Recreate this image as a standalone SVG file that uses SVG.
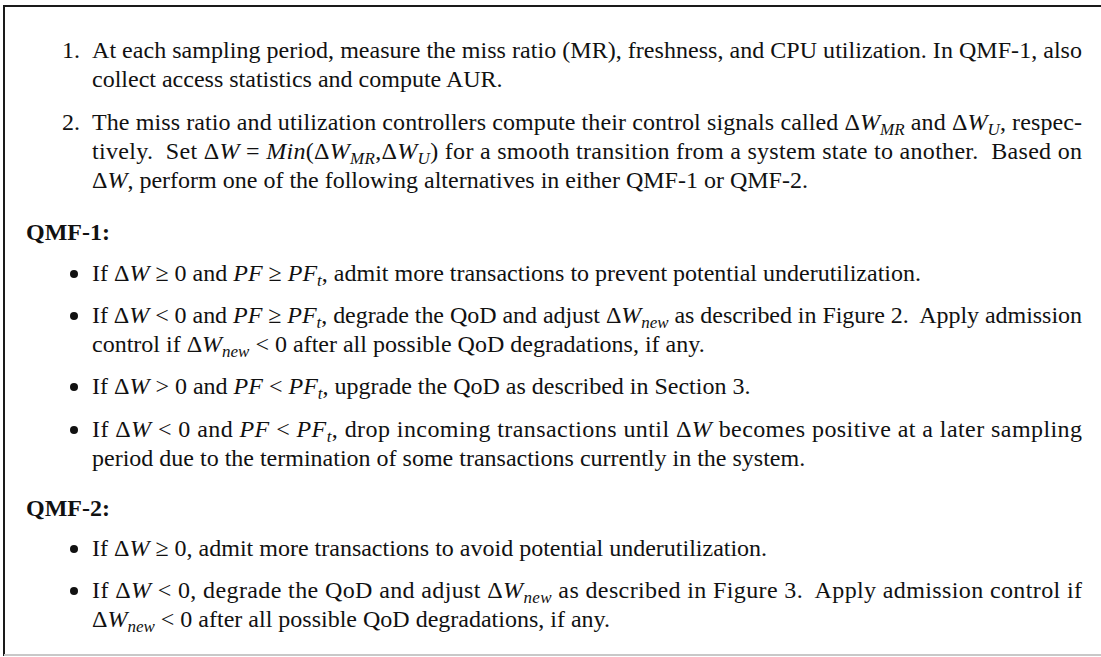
<svg xmlns="http://www.w3.org/2000/svg" width="1101" height="657" viewBox="0 0 1101 657">
  <style>
    text { font-family: "Liberation Serif", "Times New Roman", serif; font-size: 24px; fill: #111; }
    .hd { font-weight: bold; }
    .m { font-style: italic; }
    .sub { font-style: italic; font-size: 17px; }
    .dot { fill: #111; }
  </style>
  <rect x="0" y="0" width="1101" height="657" fill="#fff"/>

  <!-- frame: open on the right -->
  <g id="frame" fill="none" stroke-width="2">
    <line x1="4" y1="6" x2="1101" y2="6" stroke="#1a1a1a"/>
    <line x1="4" y1="5" x2="4" y2="656" stroke="#1a1a1a"/>
    <line x1="4" y1="655" x2="1101" y2="655" stroke="#c8c8c8"/>
  </g>

  <!-- step 1 -->
  <g id="step1">
    <text x="62" y="58">1.</text>
    <text x="92" y="58" textLength="990" lengthAdjust="spacing">At each sampling period, measure the miss ratio (MR), freshness, and CPU utilization. In QMF-1, also</text>
    <text x="92" y="87">collect access statistics and compute AUR.</text>
  </g>

  <!-- step 2 -->
  <g id="step2">
    <text x="62" y="130">2.</text>
    <text x="92" y="130" textLength="990" lengthAdjust="spacing">The miss ratio and utilization controllers compute their control signals called Δ<tspan class="m">W</tspan><tspan class="sub" dy="5">MR</tspan><tspan dy="-5"> and Δ</tspan><tspan class="m">W</tspan><tspan class="sub" dy="5">U</tspan><tspan dy="-5">, respec-</tspan></text>
    <text x="92" y="159" textLength="990" lengthAdjust="spacing">tively.&#160; Set Δ<tspan class="m">W</tspan> = <tspan class="m">Min</tspan>(Δ<tspan class="m">W</tspan><tspan class="sub" dy="5">MR</tspan><tspan dy="-5">,Δ</tspan><tspan class="m">W</tspan><tspan class="sub" dy="5">U</tspan><tspan dy="-5">) for a smooth transition from a system state to another.&#160; Based on</tspan></text>
    <text x="92" y="188">Δ<tspan class="m">W</tspan>, perform one of the following alternatives in either QMF-1 or QMF-2.</text>
  </g>

  <!-- QMF-1 -->
  <g id="qmf1">
    <text class="hd" x="26" y="240">QMF-1:</text>

    <circle class="dot" cx="74" cy="274" r="4"/>
    <text x="92" y="281">If Δ<tspan class="m">W</tspan> ≥ 0 and <tspan class="m">PF</tspan> ≥ <tspan class="m">PF</tspan><tspan class="sub" dy="5">t</tspan><tspan dy="-5">, admit more transactions to prevent potential underutilization.</tspan></text>

    <circle class="dot" cx="74" cy="316" r="4"/>
    <text x="92" y="323" textLength="990" lengthAdjust="spacing">If Δ<tspan class="m">W</tspan> &lt; 0 and <tspan class="m">PF</tspan> ≥ <tspan class="m">PF</tspan><tspan class="sub" dy="5">t</tspan><tspan dy="-5">, degrade the QoD and adjust Δ</tspan><tspan class="m">W</tspan><tspan class="sub" dy="5">new</tspan><tspan dy="-5"> as described in Figure 2.&#160; Apply admission</tspan></text>
    <text x="92" y="352">control if Δ<tspan class="m">W</tspan><tspan class="sub" dy="5">new</tspan><tspan dy="-5"> &lt; 0 after all possible QoD degradations, if any.</tspan></text>

    <circle class="dot" cx="74" cy="387" r="4"/>
    <text x="92" y="394">If Δ<tspan class="m">W</tspan> &gt; 0 and <tspan class="m">PF</tspan> &lt; <tspan class="m">PF</tspan><tspan class="sub" dy="5">t</tspan><tspan dy="-5">, upgrade the QoD as described in Section 3.</tspan></text>

    <circle class="dot" cx="74" cy="430" r="4"/>
    <text x="92" y="437" textLength="990" lengthAdjust="spacing">If Δ<tspan class="m">W</tspan> &lt; 0 and <tspan class="m">PF</tspan> &lt; <tspan class="m">PF</tspan><tspan class="sub" dy="5">t</tspan><tspan dy="-5">, drop incoming transactions until Δ</tspan><tspan class="m">W</tspan> becomes positive at a later sampling</text>
    <text x="92" y="466">period due to the termination of some transactions currently in the system.</text>
  </g>

  <!-- QMF-2 -->
  <g id="qmf2">
    <text class="hd" x="26" y="516">QMF-2:</text>

    <circle class="dot" cx="74" cy="549" r="4"/>
    <text x="92" y="556">If Δ<tspan class="m">W</tspan> ≥ 0, admit more transactions to avoid potential underutilization.</text>

    <circle class="dot" cx="74" cy="591" r="4"/>
    <text x="92" y="598" textLength="990" lengthAdjust="spacing">If Δ<tspan class="m">W</tspan> &lt; 0, degrade the QoD and adjust Δ<tspan class="m">W</tspan><tspan class="sub" dy="5">new</tspan><tspan dy="-5"> as described in Figure 3.&#160; Apply admission control if</tspan></text>
    <text x="92" y="627">Δ<tspan class="m">W</tspan><tspan class="sub" dy="5">new</tspan><tspan dy="-5"> &lt; 0 after all possible QoD degradations, if any.</tspan></text>
  </g>
</svg>
